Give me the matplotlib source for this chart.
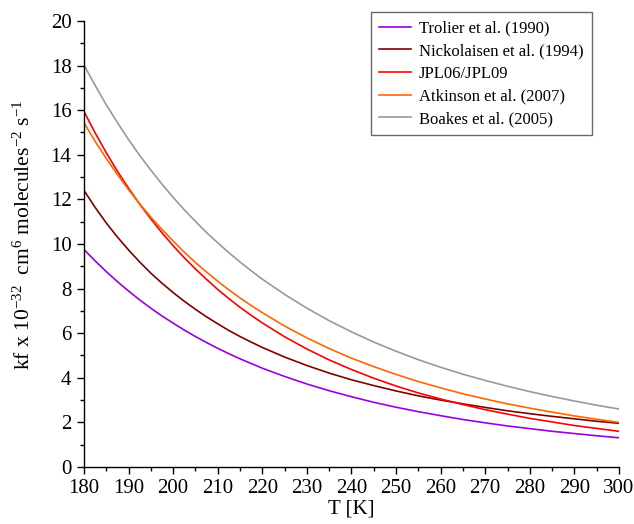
import matplotlib
matplotlib.use("Agg")
import matplotlib.pyplot as plt
from matplotlib.ticker import MultipleLocator

plt.rcParams['font.family'] = ['Liberation Serif', 'DejaVu Serif']
plt.rcParams['mathtext.fontset'] = 'custom'
plt.rcParams['mathtext.rm'] = 'Liberation Serif'
plt.rcParams['mathtext.it'] = 'Liberation Serif:italic'
plt.rcParams['mathtext.default'] = 'rm'

T = [180, 182.5, 185, 187.5, 190, 192.5, 195, 197.5, 200, 202.5, 205, 207.5, 210,
     212.5, 215, 217.5, 220, 225, 230, 235, 240,
     245, 250, 255, 260, 265, 270, 275, 280, 285, 290, 295, 300]

trolier = [9.75, 9.24, 8.76, 8.31, 7.89, 7.49, 7.12, 6.77, 6.45, 6.14, 5.85, 5.58, 5.32,
           5.08, 4.85, 4.64, 4.43, 4.06, 3.72, 3.42, 3.15,
           2.90, 2.68, 2.48, 2.30, 2.13, 1.98, 1.84, 1.72, 1.60, 1.50, 1.40, 1.31]
nickolaisen = [12.40, 11.64, 10.94, 10.31, 9.73, 9.19, 8.69, 8.24, 7.82, 7.43, 7.07, 6.73, 6.42,
               6.12, 5.85, 5.60, 5.36, 4.93, 4.55, 4.21, 3.91,
               3.65, 3.41, 3.19, 3.00, 2.83, 2.67, 2.52, 2.39, 2.27, 2.16, 2.05, 1.96]
jpl = [15.94, 14.98, 14.09, 13.26, 12.50, 11.78, 11.12, 10.50, 9.92, 9.38, 8.88, 8.41, 7.96,
       7.55, 7.16, 6.80, 6.46, 5.84, 5.29, 4.80, 4.37,
       3.98, 3.63, 3.32, 3.05, 2.80, 2.57, 2.37, 2.18, 2.02, 1.86, 1.73, 1.60]
atkinson = [15.43, 14.60, 13.83, 13.11, 12.43, 11.80, 11.20, 10.65, 10.13, 9.63, 9.17, 8.74, 8.33,
            7.94, 7.58, 7.24, 6.92, 6.32, 5.79, 5.31, 4.88,
            4.50, 4.15, 3.83, 3.55, 3.28, 3.05, 2.83, 2.64, 2.46, 2.29, 2.14, 2.00]
boakes = [18.02, 17.11, 16.24, 15.44, 14.68, 13.97, 13.31, 12.68, 12.09, 11.53, 11.01, 10.51, 10.05,
          9.61, 9.19, 8.80, 8.42, 7.74, 7.12, 6.56, 6.06,
          5.60, 5.19, 4.81, 4.47, 4.16, 3.88, 3.62, 3.38, 3.16, 2.96, 2.77, 2.60]

labels = ["Trolier et al. (1990)", "Nickolaisen et al. (1994)", "JPL06/JPL09",
          "Atkinson et al. (2007)", "Boakes et al. (2005)"]
series = [trolier, nickolaisen, jpl, atkinson, boakes]
colors = ["#9900dd", "#800000", "#ff0000", "#ff6600", "#999999"]

x_ticks = list(range(180, 301, 10))
y_ticks = list(range(0, 21, 2))

fig = plt.figure(figsize=(6.34, 5.24), dpi=100)
ax = fig.add_axes([0.1325, 0.1088, 0.8438, 0.8512])

for s, lab, c in zip(series, labels, colors):
    ax.plot(T, s, color=c, lw=1.2, label=lab)

ax.set_xlim(180, 300)
ax.set_ylim(0, 20)
ax.set_xticks(x_ticks)
ax.set_yticks(y_ticks)
ax.xaxis.set_minor_locator(MultipleLocator(5))
ax.yaxis.set_minor_locator(MultipleLocator(1))
ax.tick_params(axis='both', which='major', direction='out', length=5, width=1,
               labelsize=15, pad=4)
ax.tick_params(axis='both', which='minor', direction='out', length=3, width=1)
for sp in ['top', 'right']:
    ax.spines[sp].set_visible(False)
for sp in ['left', 'bottom']:
    ax.spines[sp].set_linewidth(1)

ax.set_xlabel("T [K]", fontsize=15, labelpad=1)
ax.set_ylabel(r"kf x 10$^{-32}$  cm$^{6}$ molecules$^{-2}$ s$^{-1}$", fontsize=15.5)
ax.yaxis.set_label_coords(-0.092, 0.52)

leg = ax.legend(loc='upper right', bbox_to_anchor=(0.9495, 1.02), fontsize=12,
                frameon=True, fancybox=False, handlelength=1.9, borderpad=0.5,
                labelspacing=0.4, handletextpad=0.5, borderaxespad=0)
leg.get_frame().set_edgecolor('#444444')
leg.get_frame().set_linewidth(1.0)

fig.savefig("out.png", dpi=100)
